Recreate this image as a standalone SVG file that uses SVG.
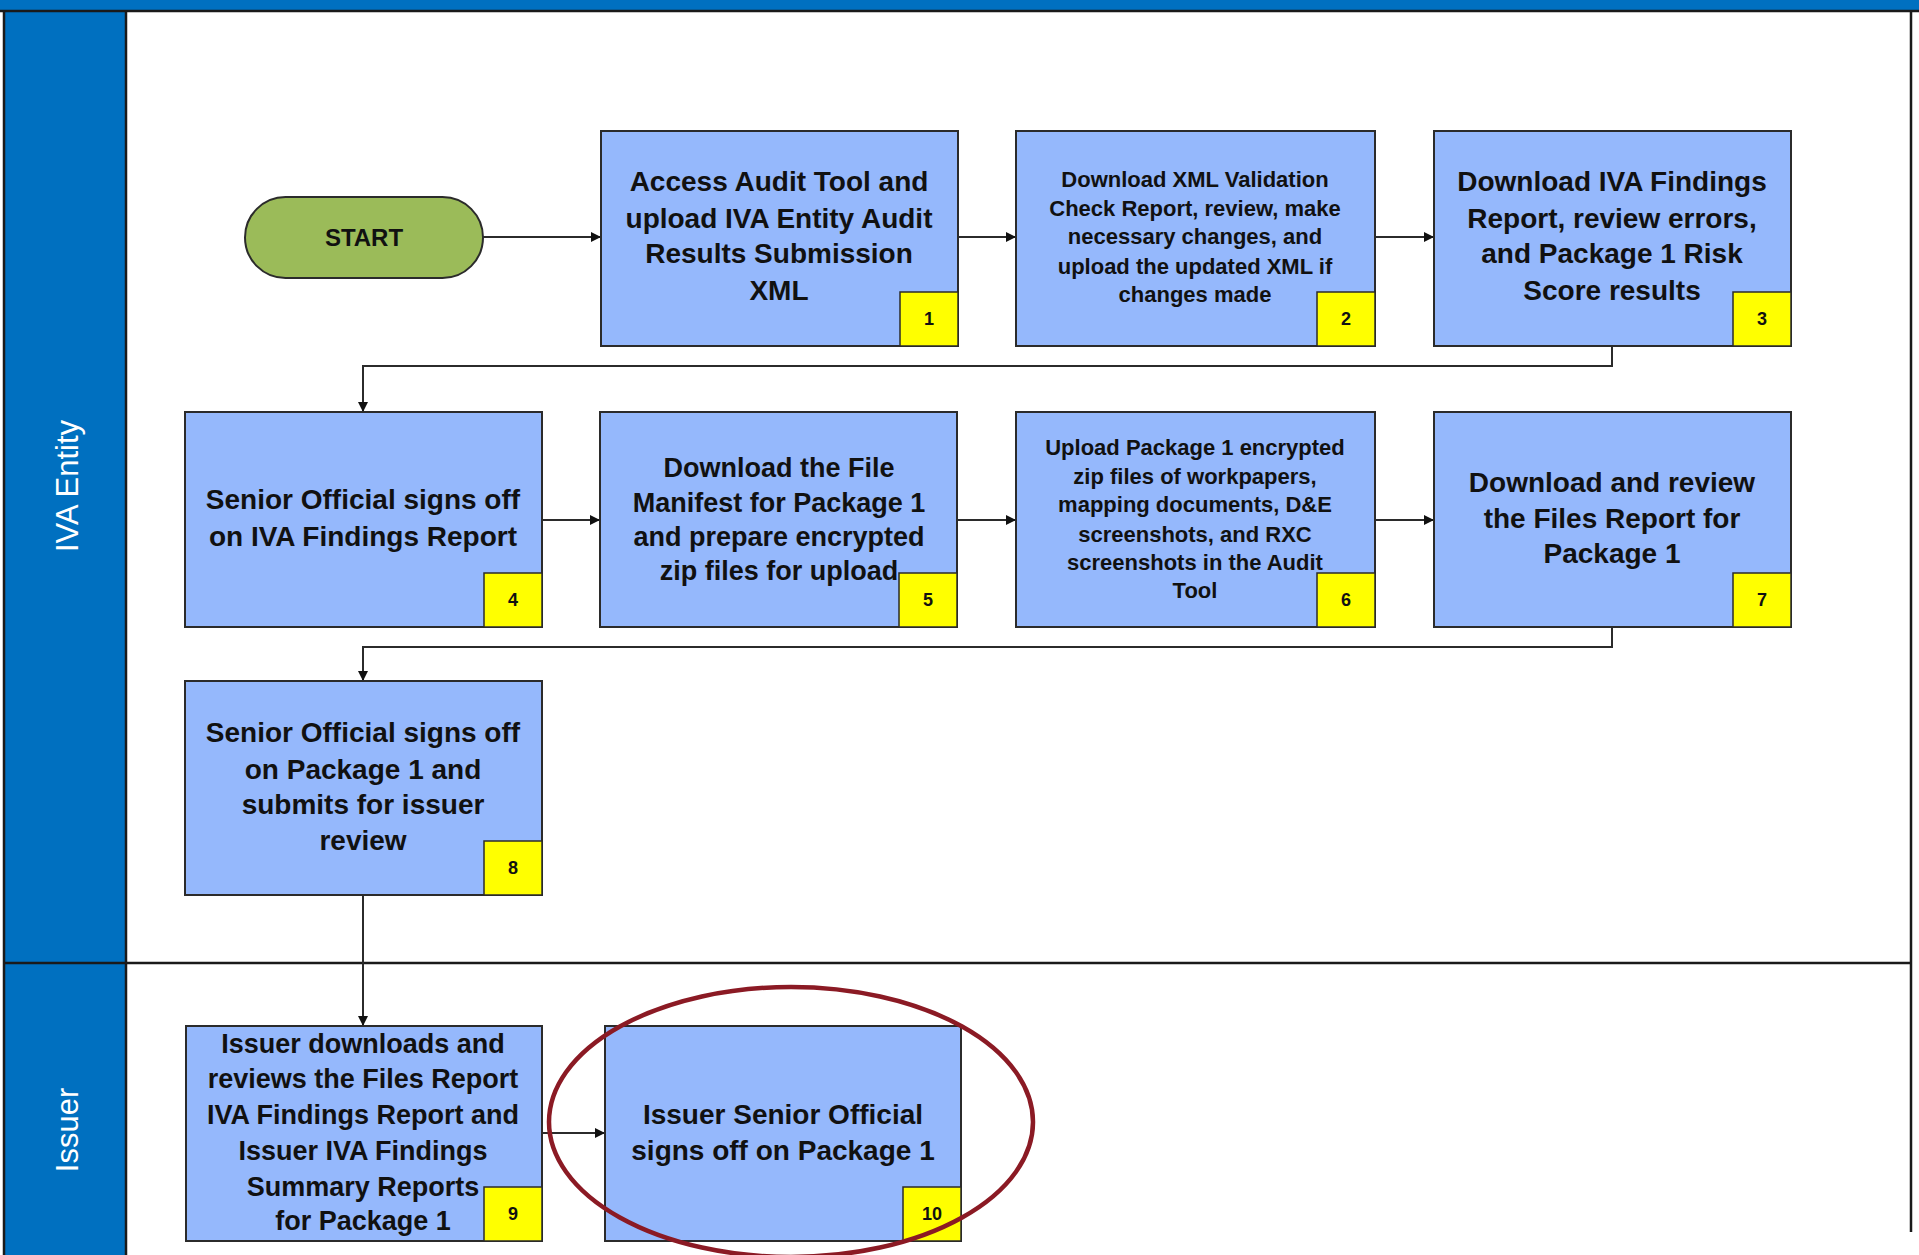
<svg xmlns="http://www.w3.org/2000/svg" width="1919" height="1255" viewBox="0 0 1919 1255">
  <defs>
    <marker id="arr" viewBox="0 0 10 10" refX="10" refY="5" markerWidth="10" markerHeight="10" markerUnits="userSpaceOnUse" orient="auto">
      <path d="M0,0 L10,5 L0,10 Z" fill="#111"/>
    </marker>
    <style>
      .box { fill: #95B8FC; stroke: #2b2b2b; stroke-width: 2; }
      .badge { fill: #FFFF00; stroke: #2b2b2b; stroke-width: 1.5; }
      .t { font-family: "Liberation Sans", Arial, sans-serif; font-weight: bold; fill: #111; text-anchor: middle; }
      .num { font-family: "Liberation Sans", Arial, sans-serif; font-weight: bold; font-size: 18px; fill: #111; text-anchor: middle; }
      .lane { font-family: "Liberation Sans", Arial, sans-serif; font-size: 31px; fill: #ffffff; text-anchor: middle; }
      .conn { fill: none; stroke: #2b2b2b; stroke-width: 2; }
    </style>
  </defs>

  <rect x="0" y="0" width="1919" height="1255" fill="#ffffff"/>

  <!-- swimlane frame -->
  <g id="lanes">
    <rect x="0" y="0" width="1919" height="11" fill="#0070C0"/>
    <rect x="4" y="11" width="122" height="1244" fill="#0070C0"/>
    <line x1="0" y1="11" x2="1919" y2="11" stroke="#1a1a1a" stroke-width="2.5"/>
    <line x1="4" y1="11" x2="4" y2="1255" stroke="#1a1a1a" stroke-width="2.5"/>
    <line x1="126" y1="11" x2="126" y2="1255" stroke="#1a1a1a" stroke-width="2.5"/>
    <line x1="1911" y1="11" x2="1911" y2="1232" stroke="#1a1a1a" stroke-width="2.5"/>
    <line x1="4" y1="963" x2="1911" y2="963" stroke="#1a1a1a" stroke-width="2.5"/>
    <text class="lane" transform="translate(78,486) rotate(-90)">IVA Entity</text>
    <text class="lane" transform="translate(78,1130) rotate(-90)">Issuer</text>
  </g>

  <!-- connectors -->
  <g id="connectors">
    <line class="conn" x1="483" y1="237" x2="601" y2="237" marker-end="url(#arr)"/>
    <line class="conn" x1="958" y1="237" x2="1016" y2="237" marker-end="url(#arr)"/>
    <line class="conn" x1="1375" y1="237" x2="1434" y2="237" marker-end="url(#arr)"/>
    <polyline class="conn" points="1612,346 1612,366 363,366 363,412" marker-end="url(#arr)"/>
    <line class="conn" x1="542" y1="520" x2="600" y2="520" marker-end="url(#arr)"/>
    <line class="conn" x1="957" y1="520" x2="1016" y2="520" marker-end="url(#arr)"/>
    <line class="conn" x1="1375" y1="520" x2="1434" y2="520" marker-end="url(#arr)"/>
    <polyline class="conn" points="1612,627 1612,647 363,647 363,681" marker-end="url(#arr)"/>
    <line class="conn" x1="363" y1="895" x2="363" y2="1026" marker-end="url(#arr)"/>
    <line class="conn" x1="542" y1="1133" x2="605" y2="1133" marker-end="url(#arr)"/>
  </g>

  <!-- START -->
  <g id="start">
    <rect x="245" y="197" width="238" height="81" rx="40.5" ry="40.5" fill="#9BBB59" stroke="#2b2b2b" stroke-width="2"/>
    <text class="t" x="364" y="246" font-size="24">START</text>
  </g>

  <!-- Node 1 -->
  <g id="n1">
    <rect class="box" x="601" y="131" width="357" height="215"/>
    <rect class="badge" x="900" y="292" width="58" height="54"/>
    <text class="num" x="929" y="325">1</text>
    <text class="t" font-size="28" x="779" y="191">Access Audit Tool and</text>
    <text class="t" font-size="28" x="779" y="228">upload IVA Entity Audit</text>
    <text class="t" font-size="28" x="779" y="263">Results Submission</text>
    <text class="t" font-size="28" x="779" y="300">XML</text>
  </g>

  <!-- Node 2 -->
  <g id="n2">
    <rect class="box" x="1016" y="131" width="359" height="215"/>
    <rect class="badge" x="1317" y="292" width="58" height="54"/>
    <text class="num" x="1346" y="325">2</text>
    <text class="t" font-size="22" x="1195" y="187">Download XML Validation</text>
    <text class="t" font-size="22" x="1195" y="216">Check Report, review, make</text>
    <text class="t" font-size="22" x="1195" y="244">necessary changes, and</text>
    <text class="t" font-size="22" x="1195" y="274">upload the updated XML if</text>
    <text class="t" font-size="22" x="1195" y="302">changes made</text>
  </g>

  <!-- Node 3 -->
  <g id="n3">
    <rect class="box" x="1434" y="131" width="357" height="215"/>
    <rect class="badge" x="1733" y="292" width="58" height="54"/>
    <text class="num" x="1762" y="325">3</text>
    <text class="t" font-size="28" x="1612" y="191">Download IVA Findings</text>
    <text class="t" font-size="28" x="1612" y="228">Report, review errors,</text>
    <text class="t" font-size="28" x="1612" y="263">and Package 1 Risk</text>
    <text class="t" font-size="28" x="1612" y="300">Score results</text>
  </g>

  <!-- Node 4 -->
  <g id="n4">
    <rect class="box" x="185" y="412" width="357" height="215"/>
    <rect class="badge" x="484" y="573" width="58" height="54"/>
    <text class="num" x="513" y="606">4</text>
    <text class="t" font-size="28" x="363" y="509">Senior Official signs off</text>
    <text class="t" font-size="28" x="363" y="546">on IVA Findings Report</text>
  </g>

  <!-- Node 5 -->
  <g id="n5">
    <rect class="box" x="600" y="412" width="357" height="215"/>
    <rect class="badge" x="899" y="573" width="58" height="54"/>
    <text class="num" x="928" y="606">5</text>
    <text class="t" font-size="27" x="779" y="477">Download the File</text>
    <text class="t" font-size="27" x="779" y="512">Manifest for Package 1</text>
    <text class="t" font-size="27" x="779" y="546">and prepare encrypted</text>
    <text class="t" font-size="27" x="779" y="580">zip files for upload</text>
  </g>

  <!-- Node 6 -->
  <g id="n6">
    <rect class="box" x="1016" y="412" width="359" height="215"/>
    <rect class="badge" x="1317" y="573" width="58" height="54"/>
    <text class="num" x="1346" y="606">6</text>
    <text class="t" font-size="22" x="1195" y="455">Upload Package 1 encrypted</text>
    <text class="t" font-size="22" x="1195" y="484">zip files of workpapers,</text>
    <text class="t" font-size="22" x="1195" y="512">mapping documents, D&amp;E</text>
    <text class="t" font-size="22" x="1195" y="542">screenshots, and RXC</text>
    <text class="t" font-size="22" x="1195" y="570">screenshots in the Audit</text>
    <text class="t" font-size="22" x="1195" y="598">Tool</text>
  </g>

  <!-- Node 7 -->
  <g id="n7">
    <rect class="box" x="1434" y="412" width="357" height="215"/>
    <rect class="badge" x="1733" y="573" width="58" height="54"/>
    <text class="num" x="1762" y="606">7</text>
    <text class="t" font-size="28" x="1612" y="492">Download and review</text>
    <text class="t" font-size="28" x="1612" y="528">the Files Report for</text>
    <text class="t" font-size="28" x="1612" y="563">Package 1</text>
  </g>

  <!-- Node 8 -->
  <g id="n8">
    <rect class="box" x="185" y="681" width="357" height="214"/>
    <rect class="badge" x="484" y="841" width="58" height="54"/>
    <text class="num" x="513" y="874">8</text>
    <text class="t" font-size="28" x="363" y="742">Senior Official signs off</text>
    <text class="t" font-size="28" x="363" y="779">on Package 1 and</text>
    <text class="t" font-size="28" x="363" y="814">submits for issuer</text>
    <text class="t" font-size="28" x="363" y="850">review</text>
  </g>

  <!-- Node 9 -->
  <g id="n9">
    <rect class="box" x="186" y="1026" width="356" height="215"/>
    <rect class="badge" x="484" y="1187" width="58" height="54"/>
    <text class="num" x="513" y="1220">9</text>
    <text class="t" font-size="27" x="363" y="1053">Issuer downloads and</text>
    <text class="t" font-size="27" x="363" y="1088">reviews the Files Report</text>
    <text class="t" font-size="27" x="363" y="1124">IVA Findings Report and</text>
    <text class="t" font-size="27" x="363" y="1160">Issuer IVA Findings</text>
    <text class="t" font-size="27" x="363" y="1196">Summary Reports</text>
    <text class="t" font-size="27" x="363" y="1230">for Package 1</text>
  </g>

  <!-- Node 10 -->
  <g id="n10">
    <rect class="box" x="605" y="1026" width="356" height="215"/>
    <rect class="badge" x="903" y="1187" width="58" height="54"/>
    <text class="num" x="932" y="1220">10</text>
    <text class="t" font-size="28" x="783" y="1124">Issuer Senior Official</text>
    <text class="t" font-size="28" x="783" y="1160">signs off on Package 1</text>
  </g>

  <!-- highlight ellipse -->
  <g id="highlight">
    <ellipse cx="791" cy="1122" rx="242" ry="135" fill="none" stroke="#8B1A24" stroke-width="4.5"/>
  </g>
</svg>
